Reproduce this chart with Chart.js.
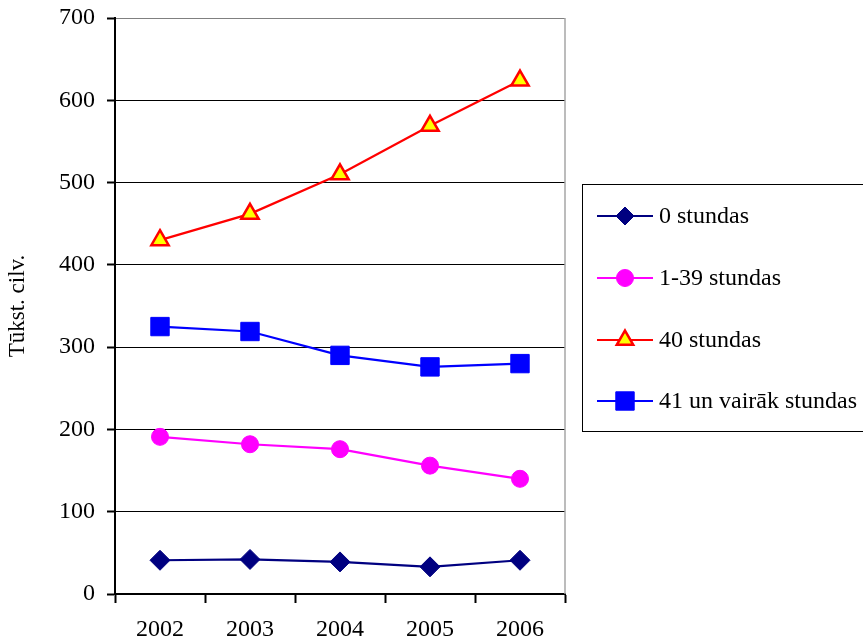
<!DOCTYPE html>
<html>
<head>
<meta charset="utf-8">
<script src="https://cdn.jsdelivr.net/npm/chart.js@4/dist/chart.umd.min.js"></script>
<style>
  html, body { margin: 0; padding: 0; background: #fff; }
  #wrap { width: 863px; height: 638px; }
</style>
</head>
<body>
<div id="wrap"><canvas id="c" width="863" height="638"></canvas></div>
<script>
// Employed persons by usual weekly working hours, thousand people
const years = ['2002', '2003', '2004', '2005', '2006'];
const zeroHours = [41, 42, 39, 33, 41];
const partTime = [191, 182, 176, 156, 140];
const fortyHours = [430, 462, 510, 569, 624];
const overForty = [325, 319, 290, 276, 280];
const seriesNames = ['0 stundas', '1-39 stundas', '40 stundas', '41 un vairāk stundas'];
const yTicks = [0, 100, 200, 300, 400, 500, 600, 700];

const FONT = "'Liberation Serif', 'Times New Roman', serif";

function series(label, data, color, fill, style, radius, legendRadius) {
  return {
    label, data,
    borderColor: color,
    backgroundColor: fill,
    borderWidth: 2.2,
    pointStyle: style,
    pointRadius: radius,
    pointHoverRadius: radius,
    pointBorderColor: color,
    pointBackgroundColor: fill,
    pointBorderWidth: style === 'triangle' ? 2.5 : 1,
    tension: 0,
    clip: false,
    legendRadius
  };
}

const datasets = [
  series(seriesNames[0], zeroHours, '#000080', '#000080', 'rectRot', 10, 9),
  series(seriesNames[1], partTime, '#FF00FF', '#FF00FF', 'circle', 8.5, 8.5),
  series(seriesNames[2], fortyHours, '#FF0000', '#FFFF00', 'triangle', 10, 9.5),
  series(seriesNames[3], overForty, '#0000FF', '#0000FF', 'rect', 13, 13)
];

// Right-hand frame of the plot area
const plotFrame = {
  id: 'plotFrame',
  beforeDatasetsDraw(chart) {
    const { ctx, chartArea: a } = chart;
    ctx.save();
    ctx.strokeStyle = '#a6a6a6';
    ctx.lineWidth = 1.5;
    ctx.beginPath();
    ctx.moveTo(a.right, a.top);
    ctx.lineTo(a.right, a.bottom);
    ctx.stroke();
    ctx.restore();
  }
};

// Boxed legend to the right of the plot
const boxLegend = {
  id: 'boxLegend',
  afterDraw(chart) {
    const { ctx } = chart;
    const left = 582, top = 184, width = 290, height = 247;
    ctx.save();
    ctx.strokeStyle = '#000';
    ctx.lineWidth = 1;
    ctx.strokeRect(left + 0.5, top + 0.5, width, height);
    const rows = [216, 278, 340, 401];
    chart.data.datasets.forEach((ds, i) => {
      const y = rows[i];
      ctx.strokeStyle = ds.borderColor;
      ctx.lineWidth = 2.2;
      ctx.beginPath();
      ctx.moveTo(597, y);
      ctx.lineTo(653, y);
      ctx.stroke();
      ctx.fillStyle = ds.pointBackgroundColor;
      ctx.strokeStyle = ds.pointBorderColor;
      ctx.lineWidth = ds.pointBorderWidth;
      Chart.helpers.drawPoint(ctx, {
        pointStyle: ds.pointStyle,
        radius: ds.legendRadius,
        rotation: 0,
        borderWidth: ds.pointBorderWidth
      }, 625, y);
      ctx.fillStyle = '#000';
      ctx.font = '24px ' + FONT;
      ctx.textBaseline = 'middle';
      ctx.textAlign = 'left';
      ctx.fillText(ds.label, 659, y + 1);
    });
    ctx.restore();
  }
};

new Chart(document.getElementById('c'), {
  type: 'line',
  data: { labels: years, datasets },
  options: {
    responsive: false,
    animation: false,
    devicePixelRatio: 1,
    layout: { padding: { top: 18, right: 298, bottom: 0, left: 0 } },
    plugins: {
      legend: { display: false },
      tooltip: { enabled: false }
    },
    scales: {
      x: {
        offset: true,
        grid: {
          offset: true,
          drawOnChartArea: false,
          drawTicks: true,
          tickLength: 9,
          tickColor: '#000',
          tickWidth: 2
        },
        border: { color: '#000', width: 2 },
        ticks: {
          color: '#000',
          font: { family: FONT, size: 24 },
          padding: 12,
          maxRotation: 0
        },
        afterFit(scale) {
          scale.height = 44;
          scale.paddingLeft = 0;
          scale.paddingRight = 0;
        }
      },
      y: {
        min: 0,
        max: 700,
        afterBuildTicks(scale) { scale.ticks = yTicks.map(v => ({ value: v })); },
        grid: {
          color: ctx => (ctx.tick && ctx.tick.value === 700) ? '#808080' : '#000',
          lineWidth: 1,
          drawTicks: true,
          tickLength: 8,
          tickColor: '#000',
          tickWidth: 2
        },
        border: { color: '#000', width: 2 },
        ticks: {
          color: '#000',
          font: { family: FONT, size: 24 },
          padding: 12
        },
        title: {
          display: true,
          text: 'Tūkst. cilv.',
          color: '#000',
          font: { family: FONT, size: 23 },
          padding: { top: 4, bottom: 0 }
        },
        afterFit(scale) {
          scale.width = 115;
          scale.paddingTop = 0;
          scale.paddingBottom = 0;
        }
      }
    }
  },
  plugins: [plotFrame, boxLegend]
});
</script>
</body>
</html>
